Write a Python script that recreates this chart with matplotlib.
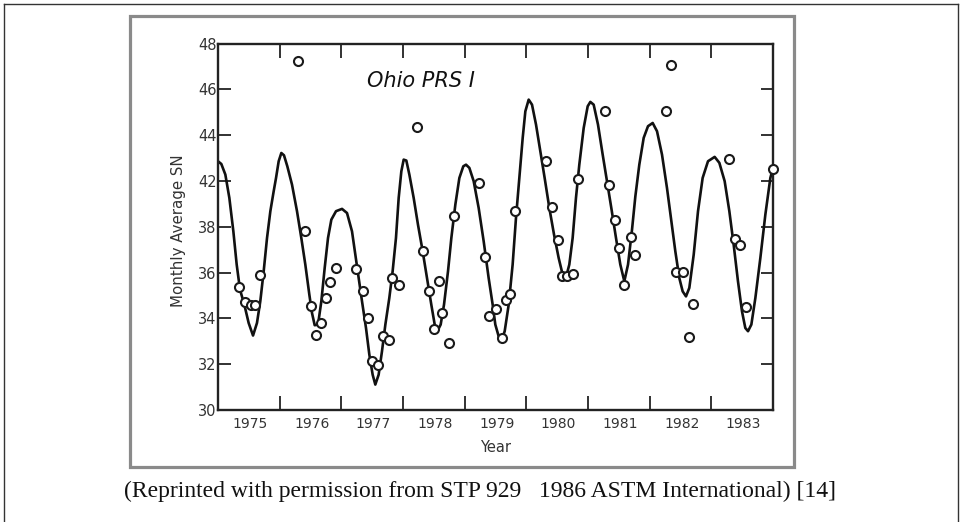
import numpy as np
import matplotlib
matplotlib.use("Agg")
import matplotlib.pyplot as plt
from matplotlib.lines import Line2D
from matplotlib.patches import Rectangle
from matplotlib.ticker import NullLocator

# ---------------- data (values in the units printed on the y axis) ----------------
obs_year = [1975.335, 1975.43, 1975.535, 1975.605, 1975.675, 1976.30, 1976.416, 1976.51,
            1976.59, 1976.675, 1976.757, 1976.82, 1976.91, 1977.24, 1977.35, 1977.43,
            1977.50, 1977.60, 1977.68, 1977.77, 1977.82, 1977.93, 1978.23, 1978.33,
            1978.42, 1978.58, 1978.50, 1978.64, 1978.75, 1978.82, 1979.24, 1979.33,
            1979.40, 1979.50, 1979.60, 1979.67, 1979.74, 1979.82, 1980.32, 1980.42,
            1980.51, 1980.58, 1980.66, 1980.76, 1980.83, 1981.27, 1981.34, 1981.43,
            1981.51, 1981.59, 1981.70, 1981.77, 1982.35, 1982.27, 1982.43, 1982.54,
            1982.70, 1982.63, 1983.28, 1983.38, 1983.46, 1983.56, 1984.00]
obs_sn = [35.36, 34.70, 34.60, 34.60, 35.88, 47.25, 37.80, 34.56,
          33.29, 33.80, 34.89, 35.57, 36.20, 36.17, 35.18, 34.02,
          32.13, 31.98, 33.22, 33.07, 35.76, 35.47, 44.34, 36.93,
          35.21, 35.65, 33.55, 34.24, 32.93, 38.92, 41.82, 36.67,
          34.09, 34.41, 33.14, 34.80, 35.07, 39.40, 42.86, 39.70,
          37.41, 35.84, 35.84, 35.94, 42.10, 45.07, 41.68, 38.62,
          37.07, 35.44, 37.54, 36.75, 47.08, 45.07, 36.01, 36.01,
          34.64, 33.17, 42.96, 37.47, 37.19, 34.48, 42.52]

fit_year = [1975.000, 1975.054, 1975.119, 1975.184, 1975.249, 1975.303, 1975.357, 1975.427,
            1975.497, 1975.568, 1975.632, 1975.686, 1975.741, 1975.795, 1975.849, 1975.903,
            1975.941, 1975.984, 1976.027, 1976.070, 1976.124, 1976.200, 1976.281, 1976.351,
            1976.416, 1976.481, 1976.524, 1976.568, 1976.622, 1976.676, 1976.730, 1976.784,
            1976.838, 1976.914, 1977.011, 1977.092, 1977.173, 1977.227, 1977.281, 1977.335,
            1977.400, 1977.454, 1977.508, 1977.551, 1977.605, 1977.659, 1977.714, 1977.778,
            1977.832, 1977.886, 1977.930, 1977.973, 1978.011, 1978.054, 1978.103, 1978.173,
            1978.243, 1978.319, 1978.389, 1978.459, 1978.514, 1978.557, 1978.611, 1978.665,
            1978.730, 1978.784, 1978.849, 1978.914, 1978.978, 1979.022, 1979.076, 1979.146,
            1979.227, 1979.308, 1979.389, 1979.454, 1979.497, 1979.551, 1979.595, 1979.649,
            1979.714, 1979.778, 1979.832, 1979.886, 1979.941, 1979.984, 1980.038, 1980.092,
            1980.157, 1980.227, 1980.297, 1980.373, 1980.449, 1980.524, 1980.589, 1980.643,
            1980.697, 1980.751, 1980.805, 1980.859, 1980.930, 1980.995, 1981.038, 1981.092,
            1981.162, 1981.238, 1981.308, 1981.378, 1981.454, 1981.524, 1981.589, 1981.649,
            1981.714, 1981.768, 1981.832, 1981.903, 1981.973, 1982.049, 1982.119, 1982.200,
            1982.281, 1982.351, 1982.416, 1982.481, 1982.535, 1982.589, 1982.643, 1982.714,
            1982.784, 1982.859, 1982.946, 1983.054, 1983.130, 1983.216, 1983.292, 1983.362,
            1983.432, 1983.497, 1983.551, 1983.595, 1983.649, 1983.714, 1983.795, 1983.876,
            1983.957, 1984.000]
fit_sn = [42.86, 42.74, 42.28, 40.52, 37.80, 36.35, 35.25, 34.60,
          33.80, 33.25, 33.80, 34.75, 36.06, 37.51, 39.36, 41.10,
          42.13, 42.86, 43.22, 43.12, 42.64, 41.68, 39.36, 37.51,
          36.35, 35.04, 34.24, 33.70, 33.73, 34.75, 36.20, 37.51,
          38.62, 39.36, 39.56, 39.20, 37.80, 36.78, 35.76, 34.75,
          33.58, 32.42, 31.54, 31.11, 31.54, 32.56, 33.73, 34.89,
          36.06, 37.51, 40.52, 42.42, 42.93, 42.89, 42.28, 40.52,
          38.18, 36.93, 35.76, 34.60, 33.73, 33.44, 33.73, 34.60,
          36.06, 37.51, 39.94, 42.13, 42.64, 42.71, 42.57, 41.98,
          39.64, 37.37, 35.76, 34.60, 33.73, 33.22, 33.00, 33.44,
          34.60, 36.35, 38.76, 42.13, 43.88, 45.04, 45.55, 45.33,
          44.46, 43.30, 42.13, 39.64, 37.66, 36.64, 35.91, 35.79,
          36.35, 37.51, 40.52, 42.71, 44.31, 45.26, 45.45, 45.33,
          44.46, 43.15, 41.98, 39.64, 37.51, 36.35, 35.62, 36.35,
          37.88, 40.66, 42.71, 43.88, 44.39, 44.53, 44.17, 43.15,
          41.38, 38.48, 36.93, 35.76, 35.18, 34.96, 35.33, 36.78,
          39.36, 42.13, 42.86, 43.05, 42.79, 41.98, 39.36, 37.22,
          35.62, 34.31, 33.58, 33.44, 33.73, 34.89, 36.64, 39.06,
          42.13, 42.57]

ytick_values = [30, 32, 34, 36, 38, 42, 44, 46, 48]
ytick_labels = ["30", "32", "34", "36", "38", "42", "44", "46", "48"]
year_bounds = [1976, 1977, 1978, 1979, 1980, 1981, 1982, 1983]
year_labels = ["1975", "1976", "1977", "1978", "1979", "1980", "1981", "1982", "1983"]
title_text = "Ohio PRS I"
ylabel_text = "Monthly Average SN"
xlabel_text = "Year"
caption_text = "(Reprinted with permission from STP 929   1986 ASTM International) [14]"


# The printed axis skips "40": the 38 and 42 ticks are one tick step apart.
def fwd(v):
    v = np.asarray(v, dtype=float)
    return np.where(v <= 38, v, np.where(v >= 42, v - 2, 38 + (v - 38) / 2))


def inv(p):
    p = np.asarray(p, dtype=float)
    return np.where(p <= 38, p, np.where(p >= 40, p + 2, 38 + (p - 38) * 2))


W, H = 961, 522
fig = plt.figure(figsize=(W / 100, H / 100), dpi=100)
fig.patch.set_facecolor("white")


def fx(px):
    return px / W


def fy(py):
    return 1 - py / H


# outer thin frame
fig.add_artist(Line2D([fx(4), fx(957.5)], [fy(4), fy(4)], color="#333333", lw=1.0,
                      transform=fig.transFigure))
fig.add_artist(Line2D([fx(4), fx(4)], [fy(4), fy(522)], color="#333333", lw=1.0,
                      transform=fig.transFigure))
fig.add_artist(Line2D([fx(957.5), fx(957.5)], [fy(4), fy(522)], color="#333333", lw=1.0,
                      transform=fig.transFigure))

# gray box around the chart
fig.add_artist(Rectangle((fx(130), fy(467)), fx(794) - fx(130), fy(16) - fy(467),
                         fill=False, edgecolor="#8a8a8a", lw=2.3,
                         transform=fig.transFigure))

ax = fig.add_axes([fx(218), fy(410), fx(773) - fx(218), fy(43.5) - fy(410)])
ax.set_yscale("function", functions=(fwd, inv))
ax.set_xlim(1975, 1984)
ax.set_ylim(30, 48)

ax.plot(fit_year, fit_sn, color="#111111", lw=1.9, zorder=2, solid_joinstyle="round")
ax.plot(obs_year, obs_sn, linestyle="none", marker="o", ms=6.5, mew=1.5,
        mec="#1a1a1a", mfc="white", zorder=3, clip_on=False)

ax.set_yticks(ytick_values)
ax.set_yticklabels(ytick_labels)
ax.yaxis.set_minor_locator(NullLocator())
ax.tick_params(axis="y", which="major", direction="in", left=True, right=True,
               labelright=False, length=9, width=1.3, pad=1, labelsize=10.5,
               colors="#222222", labelcolor="#333333")

ax.set_xticks(year_bounds)
ax.set_xticklabels([""] * len(year_bounds))
ax.set_xticks([y + 0.52 for y in range(1975, 1984)], minor=True)
ax.set_xticklabels(year_labels, minor=True)
ax.tick_params(axis="x", which="major", direction="in", top=True, bottom=True,
               length=10, width=1.3, colors="#222222")
ax.tick_params(axis="x", which="minor", length=0, pad=5, labelsize=10,
               labelcolor="#333333")

for s in ax.spines.values():
    s.set_linewidth(1.7)
    s.set_color("#222222")

ax.text((367 - 218) / 555, (410 - 81) / 366.5, title_text, transform=ax.transAxes,
        fontsize=15, style="italic", ha="left", va="center", color="#111111")

fig.text(fx(178), fy(231), ylabel_text, rotation=90, ha="center", va="center",
         fontsize=10.8, color="#333333")
fig.text(fx(496), fy(448), xlabel_text, ha="center", va="center",
         fontsize=10.5, color="#333333")

fig.text(fx(480), fy(491), caption_text, ha="center", va="center",
         fontsize=17, family="Liberation Serif", color="#111111")

fig.savefig("out.png", dpi=100, facecolor="white")
